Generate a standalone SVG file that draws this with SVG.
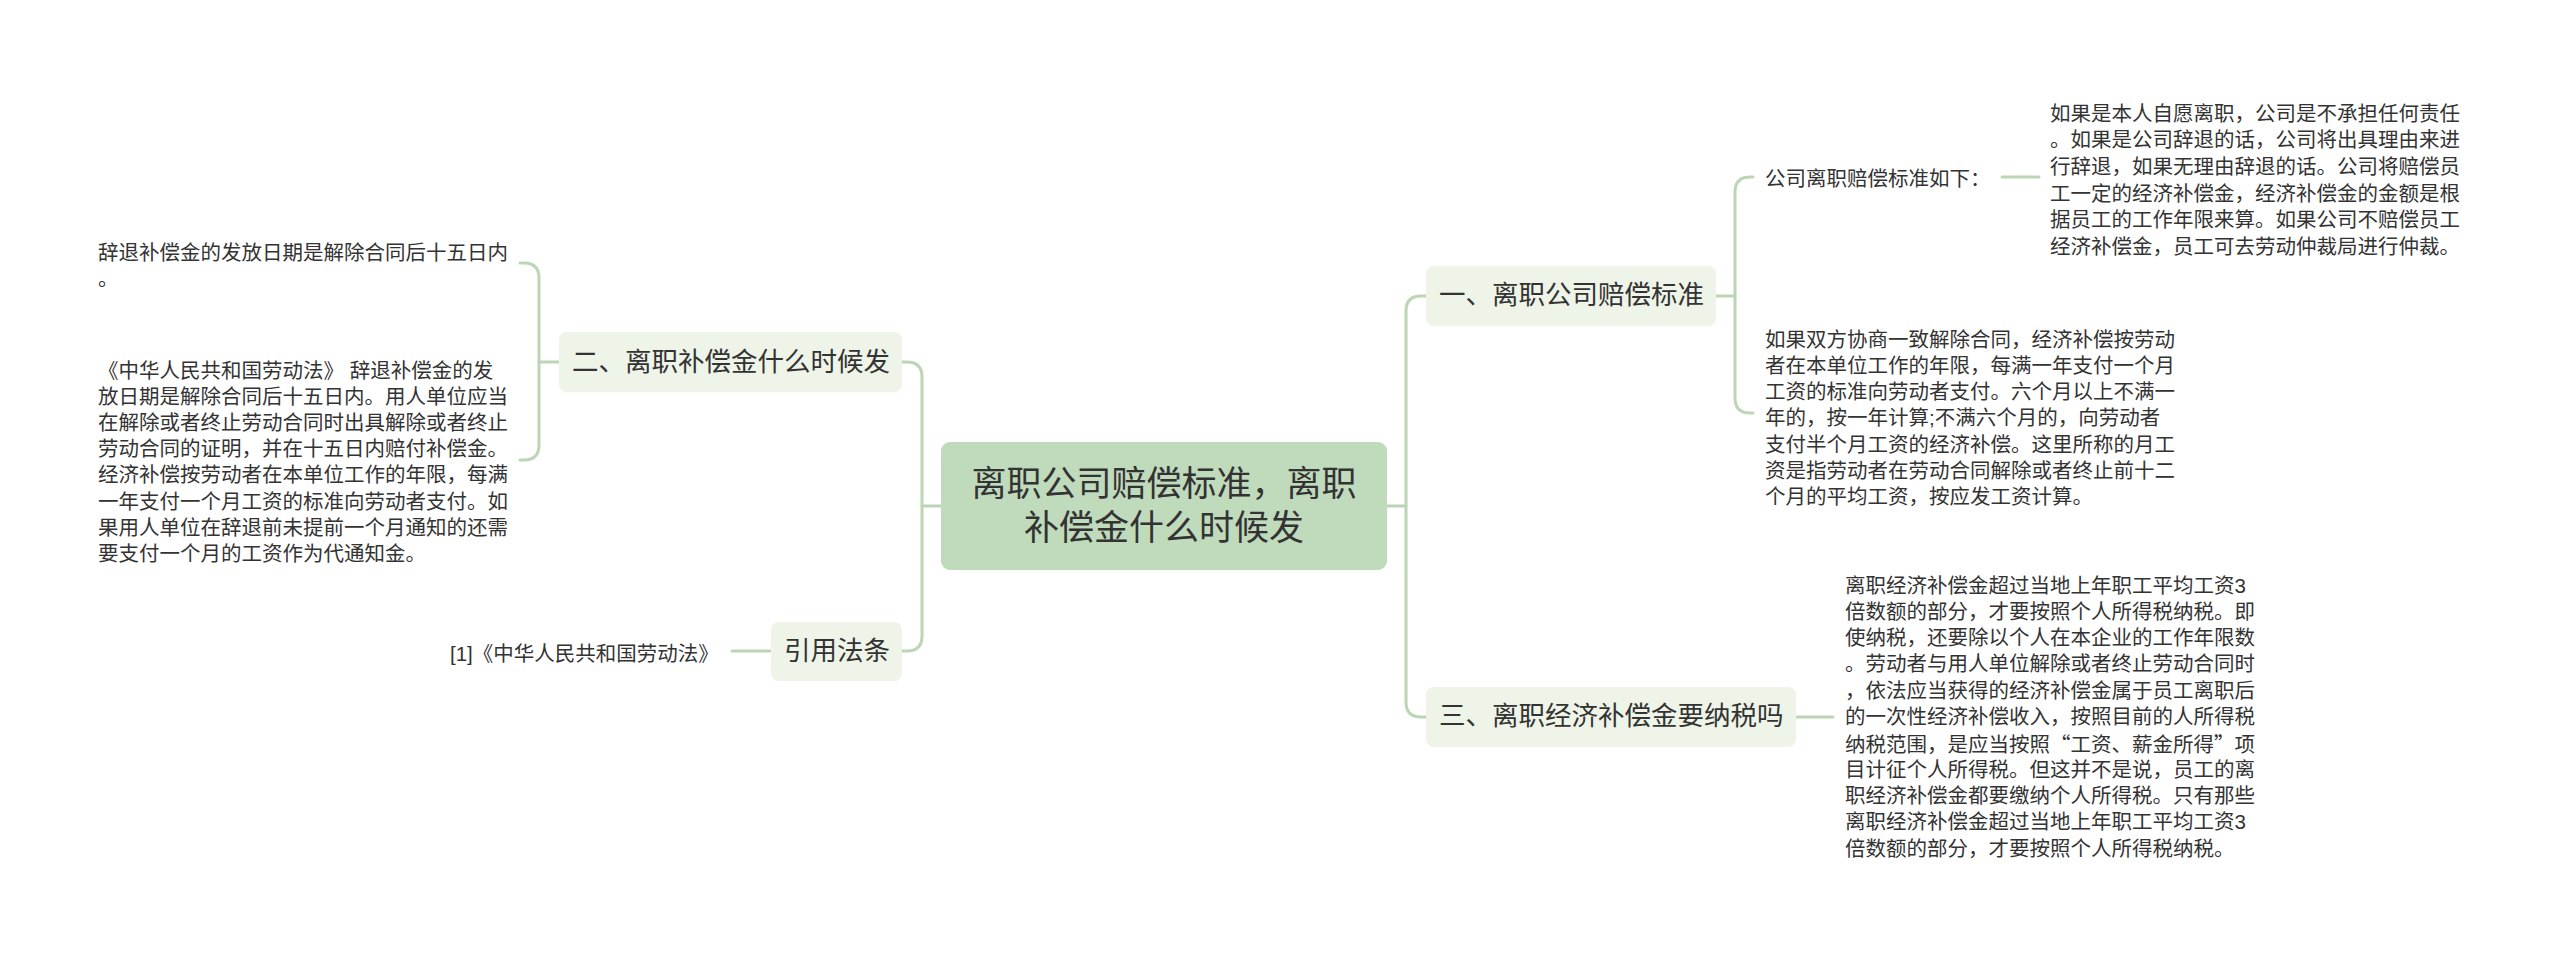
<svg xmlns="http://www.w3.org/2000/svg" width="2560" height="961" viewBox="0 0 2560 961">
<style>
text{font-family:"Liberation Sans","Noto Sans CJK SC",sans-serif;fill:#333;dominant-baseline:central}
.sm{font-size:20.5px}
.br{font-size:26.5px}
.ct{font-size:35px;text-anchor:middle}
.cjk{font-family:"Noto Sans CJK SC",sans-serif}
.conn{fill:none;stroke:#bcd6b5;stroke-width:3;stroke-linecap:round}
.bn{fill:#eef4e7}
</style>
<rect width="2560" height="961" fill="#fff"/>
<g id="connectors" class="conn">
<path d="M1387,506 H1406"/>
<path d="M1426,296 H1421 Q1406,296 1406,311 V702 Q1406,717 1421,717 H1426"/>
<path d="M1715,296 H1735"/>
<path d="M1753,177 H1750 Q1735,177 1735,192 V398 Q1735,413 1750,413 H1753"/>
<path d="M2002,177 H2039"/>
<path d="M1797,717 H1833"/>
<path d="M941,506 H922"/>
<path d="M902,362 H907 Q922,362 922,377 V636 Q922,651 907,651 H902"/>
<path d="M559,362 H539"/>
<path d="M520,263 H524 Q539,263 539,278 V445 Q539,460 524,460 H520"/>
<path d="M770,651 H732"/>
</g>
<g id="center">
<rect x="941" y="442" width="446" height="128" rx="9" fill="#c0dabc"/>
<text class="ct" x="1164" y="483">离职公司赔偿标准，离职</text>
<text class="ct" x="1164" y="527">补偿金什么时候发</text>
</g>
<g id="node1">
<rect class="bn" x="1426" y="266" width="290" height="60" rx="8"/>
<text class="br" x="1439" y="295">一、离职公司赔偿标准</text>
</g>
<g id="node1-label">
<text class="sm" x="1765" y="178">公司离职赔偿标准如下：</text>
</g>
<g id="node1-text1">
<text class="sm" x="2050" y="113">如果是本人自愿离职，公司是不承担任何责任</text>
<text class="sm" x="2050" y="139.7">。如果是公司辞退的话，公司将出具理由来进</text>
<text class="sm" x="2050" y="166.4">行辞退，如果无理由辞退的话。公司将赔偿员</text>
<text class="sm" x="2050" y="193.1">工一定的经济补偿金，经济补偿金的金额是根</text>
<text class="sm" x="2050" y="219.8">据员工的工作年限来算。如果公司不赔偿员工</text>
<text class="sm" x="2050" y="246.5">经济补偿金，员工可去劳动仲裁局进行仲裁。</text>
</g>
<g id="node1-text2">
<text class="sm" x="1765" y="339">如果双方协商一致解除合同，经济补偿按劳动</text>
<text class="sm" x="1765" y="365.3">者在本单位工作的年限，每满一年支付一个月</text>
<text class="sm" x="1765" y="391.6">工资的标准向劳动者支付。六个月以上不满一</text>
<text class="sm" x="1765" y="417.9">年的，按一年计算;不满六个月的，向劳动者</text>
<text class="sm" x="1765" y="444.2">支付半个月工资的经济补偿。这里所称的月工</text>
<text class="sm" x="1765" y="470.5">资是指劳动者在劳动合同解除或者终止前十二</text>
<text class="sm" x="1765" y="496.8">个月的平均工资，按应发工资计算。</text>
</g>
<g id="node3">
<rect class="bn" x="1426" y="687" width="370" height="60" rx="8"/>
<text class="br" x="1439" y="716">三、离职经济补偿金要纳税吗</text>
</g>
<g id="node3-text">
<text class="sm" x="1845" y="585">离职经济补偿金超过当地上年职工平均工资3</text>
<text class="sm" x="1845" y="611.3">倍数额的部分，才要按照个人所得税纳税。即</text>
<text class="sm" x="1845" y="637.6">使纳税，还要除以个人在本企业的工作年限数</text>
<text class="sm" x="1845" y="663.9">。劳动者与用人单位解除或者终止劳动合同时</text>
<text class="sm" x="1845" y="690.2">，依法应当获得的经济补偿金属于员工离职后</text>
<text class="sm" x="1845" y="716.5">的一次性经济补偿收入，按照目前的人所得税</text>
<text class="sm cjk" x="1845" y="742.8">纳税范围，是应当按照“工资、薪金所得”项</text>
<text class="sm" x="1845" y="769.1">目计征个人所得税。但这并不是说，员工的离</text>
<text class="sm" x="1845" y="795.4">职经济补偿金都要缴纳个人所得税。只有那些</text>
<text class="sm" x="1845" y="821.7">离职经济补偿金超过当地上年职工平均工资3</text>
<text class="sm" x="1845" y="848">倍数额的部分，才要按照个人所得税纳税。</text>
</g>
<g id="node2">
<rect class="bn" x="559" y="332" width="343" height="60" rx="8"/>
<text class="br" x="572" y="362">二、离职补偿金什么时候发</text>
</g>
<g id="node2-text1">
<text class="sm" x="98" y="252">辞退补偿金的发放日期是解除合同后十五日内</text>
<text class="sm" x="98" y="278">。</text>
</g>
<g id="node2-text2">
<text class="sm" x="98" y="370">《中华人民共和国劳动法》 辞退补偿金的发</text>
<text class="sm" x="98" y="396.2">放日期是解除合同后十五日内。用人单位应当</text>
<text class="sm" x="98" y="422.4">在解除或者终止劳动合同时出具解除或者终止</text>
<text class="sm" x="98" y="448.6">劳动合同的证明，并在十五日内赔付补偿金。</text>
<text class="sm" x="98" y="474.8">经济补偿按劳动者在本单位工作的年限，每满</text>
<text class="sm" x="98" y="501">一年支付一个月工资的标准向劳动者支付。如</text>
<text class="sm" x="98" y="527.2">果用人单位在辞退前未提前一个月通知的还需</text>
<text class="sm" x="98" y="553.4">要支付一个月的工资作为代通知金。</text>
</g>
<g id="node4">
<rect class="bn" x="771" y="622" width="131" height="59" rx="8"/>
<text class="br" x="784" y="651">引用法条</text>
</g>
<g id="node4-text">
<text class="sm" x="450" y="653">[1]《中华人民共和国劳动法》</text>
</g>
</svg>
